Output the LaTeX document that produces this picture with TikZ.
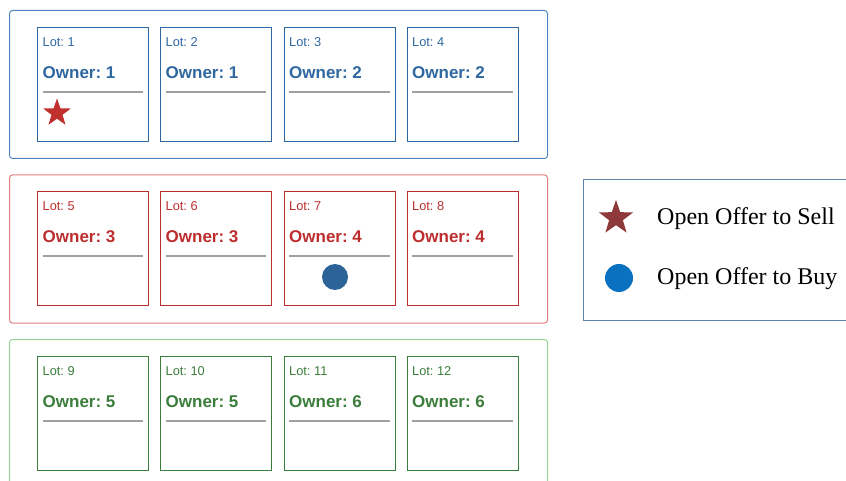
\documentclass[tikz,border=0pt]{standalone}
\usepackage{fontspec}
\setmainfont{Liberation Serif}
\newfontfamily\sansf{Liberation Sans}
\usetikzlibrary{shapes.geometric}
\definecolor{bluefr}{HTML}{4F86BE}
\definecolor{redfr}{HTML}{E27E7E}
\definecolor{greenfr}{HTML}{94D494}
\definecolor{lotc0}{HTML}{2F67A0}
\definecolor{lotc1}{HTML}{BC2E2E}
\definecolor{lotc2}{HTML}{3B7D3B}
\definecolor{sepgray}{HTML}{A0A0A0}
\definecolor{starred}{HTML}{C0302C}
\definecolor{legstar}{HTML}{8E3A3A}
\definecolor{legcirc}{HTML}{0A70C0}
\definecolor{dotblue}{HTML}{2C6498}
\definecolor{legfr}{HTML}{5F82A8}
\begin{document}
\frenchspacing
\begin{tikzpicture}[x=1pt,y=-1pt,
  group/.style={draw, line width=1pt, rounded corners=3pt, minimum width=538pt, minimum height=148pt, anchor=north west, inner sep=0},
  lotbox/.style={draw, line width=1pt, minimum width=111pt, minimum height=114pt, anchor=north west, inner sep=0},
  lottext/.style={anchor=west, inner sep=0, font=\sansf\fontsize{12.8}{14}\selectfont},
  ownertext/.style={anchor=west, inner sep=0, font=\sansf\bfseries\fontsize{17}{20}\selectfont},
  sepline/.style={draw=sepgray, line width=1.4pt},
  legtext/.style={anchor=west, inner sep=0, font=\fontsize{24}{27}\selectfont}]
\useasboundingbox (0,0) rectangle (846,481);
\node[group, draw=bluefr] (g1) at (9,10) {};
\node[group, draw=redfr] (g2) at (9,174.5) {};
\node[group, draw=greenfr, minimum height=160pt] (g3) at (9,339) {};
\foreach \n/\col/\row/\own in {1/0/0/1,2/1/0/1,3/2/0/2,4/3/0/2,5/0/1/3,6/1/1/3,7/2/1/4,8/3/1/4,9/0/2/5,10/1/2/5,11/2/2/6,12/3/2/6}{
  \pgfmathsetmacro\xx{{37,160,283.5,406.5}[\col]}
  \pgfmathsetmacro\yy{{27,191,356}[\row]}
  \node[lotbox, draw=lotc\row] (lot\n) at (\xx,\yy) {};
  \node[lottext, text=lotc\row] (lotlabel\n) at ([shift={(5.5pt,-15pt)}]lot\n.north west) {Lot: \n};
  \node[ownertext, text=lotc\row] (owner\n) at ([shift={(5.5pt,-45.5pt)}]lot\n.north west) {Owner: \own};
  \coordinate (sepa\n) at ([shift={(5.5pt,-65pt)}]lot\n.north west);
  \coordinate (sepb\n) at ([shift={(-6pt,-65pt)}]lot\n.north east);
  \draw[sepline] (sepa\n) -- (sepb\n);
}
\node[star, star points=5, star point ratio=2.5, fill=starred, minimum size=29pt, inner sep=0] (star1) at (57,113) {};
\node[circle, fill=dotblue, minimum size=26pt, inner sep=0] (dot7) at (335,277) {};
\node[draw=legfr, line width=1pt, minimum width=270pt, minimum height=141pt, anchor=north west, inner sep=0] (legend) at (583,179) {};
\node[star, star points=5, star point ratio=2.5, fill=legstar, minimum size=36pt, inner sep=0] (legstar) at (616,218) {};
\node[circle, fill=legcirc, minimum size=28pt, inner sep=0] (legdot) at (619,278) {};
\node[legtext] (sell) at (657,218.5) {Open Offer to Sell};
\node[legtext] (buy) at (657,278.5) {Open Offer to Buy};
\end{tikzpicture}
\end{document}
